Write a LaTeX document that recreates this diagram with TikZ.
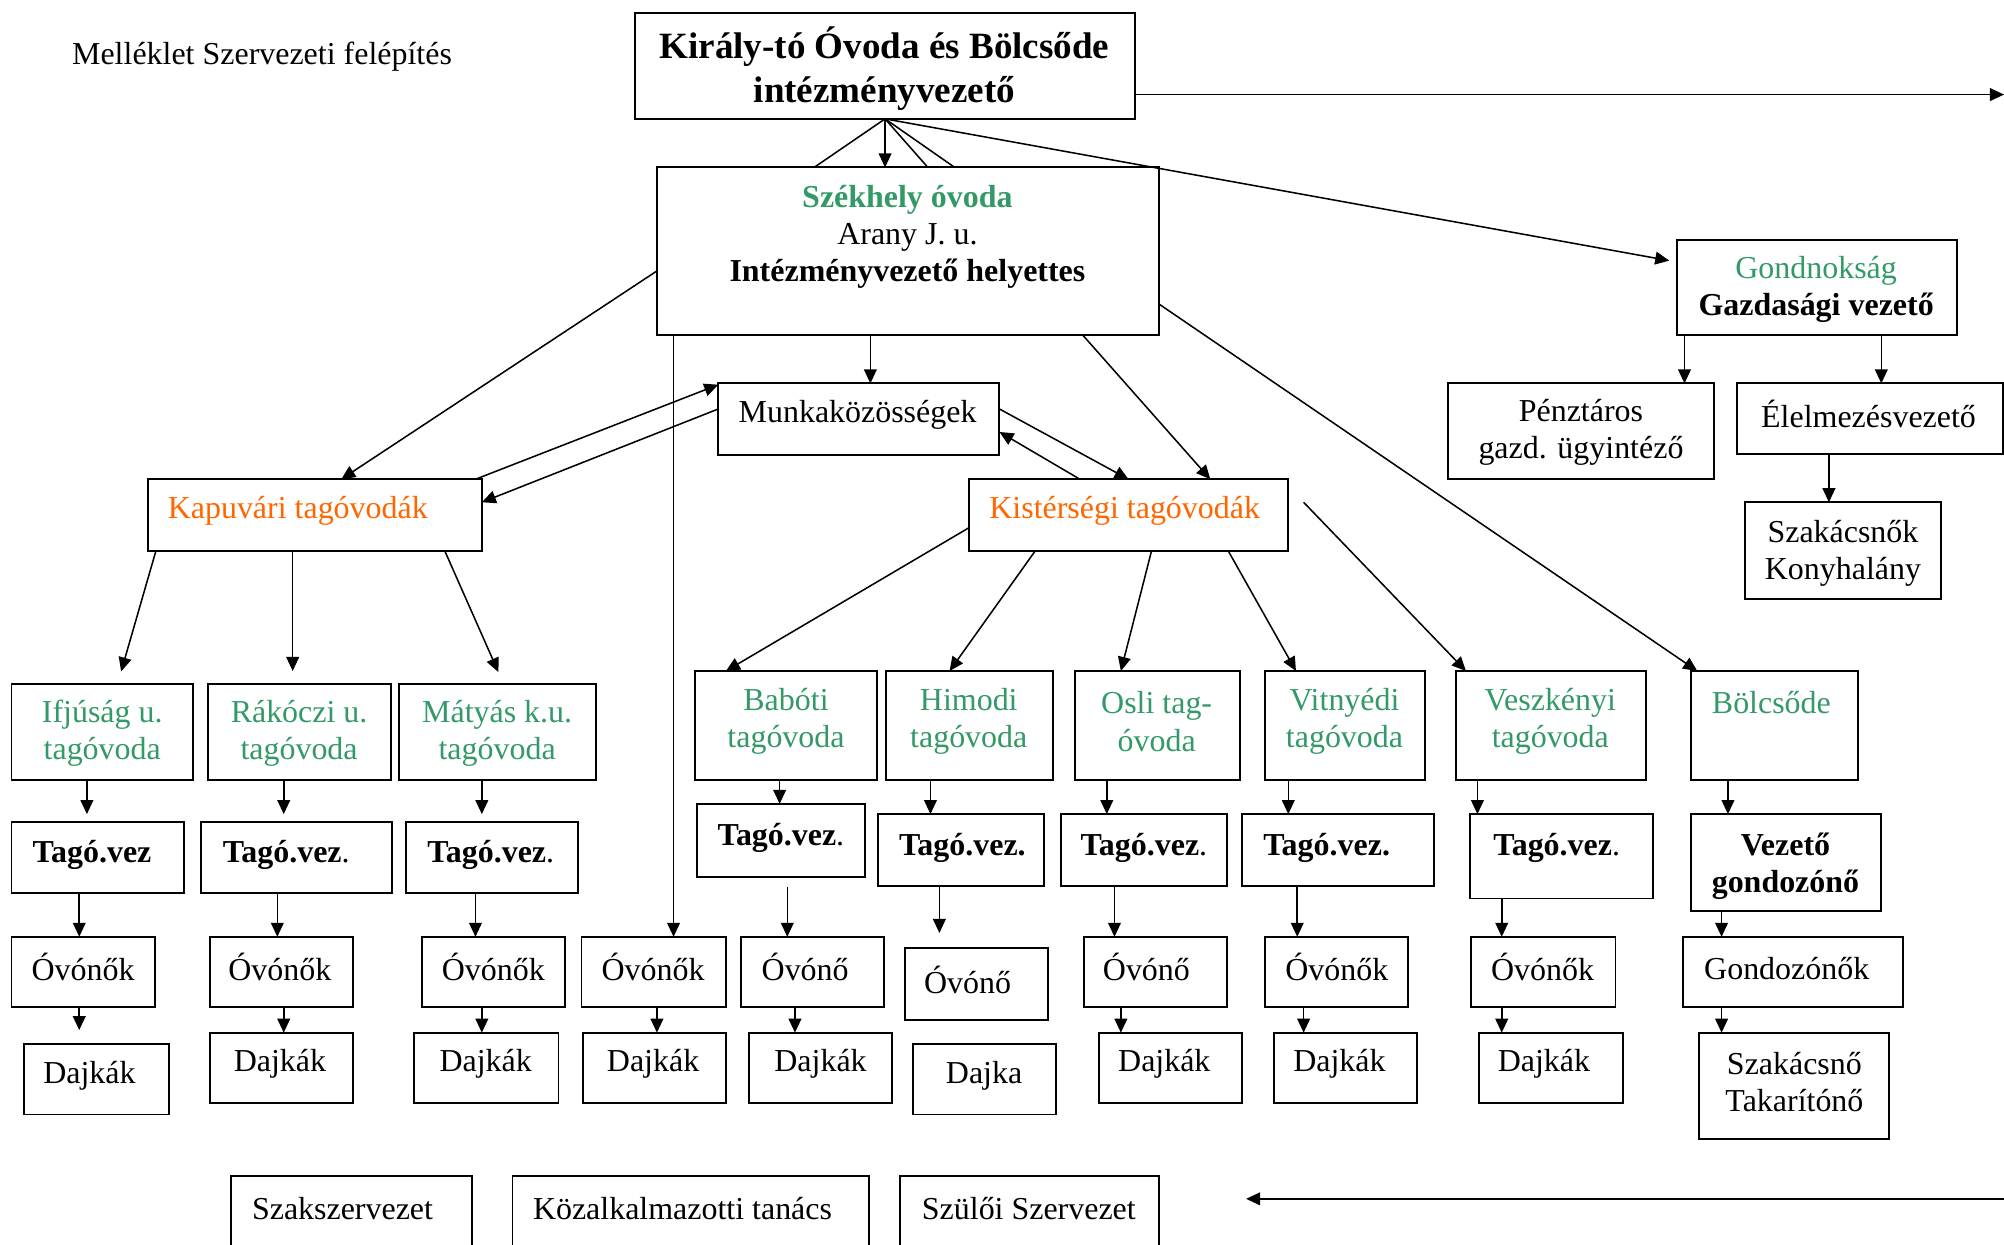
\documentclass[tikz,border=0pt]{standalone}
\usepackage{fontspec}
\setmainfont{Liberation Serif}
\usetikzlibrary{arrows.meta,fit}
\definecolor{grn}{HTML}{339966}
\definecolor{org}{HTML}{FF6600}
\newcommand\bx[8]{%
  \node[box, fit={(#2,#3) (#4,#5)}] (#1) {};
  \node[txt] (#1-t) at (#6,#7) {#8};%
}
\begin{document}
\begin{tikzpicture}[x=0.5pt,y=-0.5pt,
  box/.style={draw, line width=0.75pt, inner sep=0pt, outer sep=0pt, rectangle},
  txt/.style={inner sep=0pt, align=center, yshift=-0.8pt, font=\fontsize{12.5}{14.5}\selectfont},
  arr/.style={line width=0.6pt, -{Triangle[length=5.5pt,width=5pt]}},
  ln/.style={line width=0.6pt},
  g/.style={text=grn}, o/.style={text=org}]
\useasboundingbox (0,0) rectangle (1568,974);
\clip (0,0) rectangle (1568,974);

\node[txt] (mell) at (205,43) {Melléklet Szervezeti felépítés};

\bx{top}{497}{10}{888}{93}{692}{52}{\fontsize{14.5}{17}\selectfont\bfseries Király-tó Óvoda és Bölcsőde\\[2.5pt]\fontsize{14.5}{17}\selectfont\bfseries intézményvezető}
\bx{szek}{514}{131}{907}{262}{710}{184}{\textcolor{grn}{\bfseries Székhely óvoda}\\Arany J. u.\\\bfseries Intézményvezető helyettes}
\bx{gond}{1312}{188}{1531}{262}{1421}{225}{\textcolor{grn}{Gondnokság}\\\bfseries Gazdasági vezető}
\bx{penz}{1133}{300}{1341}{375}{1237}{337}{Pénztáros\\gazd. ügyintéző}
\bx{elel}{1359}{300}{1567}{355}{1462}{322}{Élelmezésvezető}
\bx{szak}{1365}{393}{1519}{469}{1442}{431}{Szakácsnők\\Konyhalány}
\bx{munka}{562}{300}{782}{356}{671}{323}{Munkaközösségek}
\bx{kap}{116}{375}{377}{431}{233}{398}{\textcolor{org}{Kapuvári tagóvodák}}
\bx{kis}{758}{375}{1008}{431}{880}{398}{\textcolor{org}{Kistérségi tagóvodák}}

% row 1
\bx{ifj}{9}{535}{151}{610}{80}{572}{\color{grn}Ifjúság u.\\\color{grn}tagóvoda}
\bx{rak}{163}{535}{306}{610}{234}{572}{\color{grn}Rákóczi u.\\\color{grn}tagóvoda}
\bx{mat}{312}{535}{466}{610}{389}{572}{\color{grn}Mátyás k.u.\\\color{grn}tagóvoda}
\bx{bab}{544}{525}{686}{610}{615}{563}{\color{grn}Babóti\\\color{grn}tagóvoda}
\bx{him}{693}{525}{824}{610}{758}{563}{\color{grn}Himodi\\\color{grn}tagóvoda}
\bx{osl}{841}{525}{970}{610}{905}{563}{\color{grn}Osli tag-\\\color{grn}óvoda}
\bx{vit}{990}{525}{1115}{610}{1052}{563}{\color{grn}Vitnyédi\\\color{grn}tagóvoda}
\bx{vesz}{1139}{525}{1288}{610}{1213}{563}{\color{grn}Veszkényi\\\color{grn}tagóvoda}
\bx{bol}{1323}{525}{1454}{610}{1386}{548}{\color{grn}Bölcsőde}

% row 2
\bx{tv1}{9}{643}{144}{699}{72}{667}{\textbf{Tagó.vez}}
\bx{tv2}{157}{643}{307}{699}{224}{667}{\textbf{Tagó.vez}.}
\bx{tv3}{318}{643}{452}{699}{384}{667}{\textbf{Tagó.vez}.}
\bx{tv4}{545}{629}{677}{686}{611}{654}{\textbf{Tagó.vez}.}
\bx{tv5}{687}{637}{817}{693}{753}{662}{\textbf{Tagó.vez.}}
\bx{tv6}{830}{637}{960}{693}{895}{662}{\textbf{Tagó.vez}.}
\bx{tv7}{972}{637}{1122}{693}{1038}{662}{\textbf{Tagó.vez.}}
\bx{tv8}{1150}{637}{1293}{703}{1218}{662}{\textbf{Tagó.vez}.}
\bx{vg}{1323}{637}{1472}{713}{1397}{676}{\bfseries Vezető\\\bfseries gondozónő}

% row 3
\bx{o1}{9}{733}{121}{788}{65}{755}{Óvónők}
\bx{o2}{164}{733}{276}{788}{219}{755}{Óvónők}
\bx{o3}{330}{733}{442}{788}{386}{755}{Óvónők}
\bx{o4}{455}{733}{568}{788}{511}{755}{Óvónők}
\bx{o5}{580}{733}{692}{788}{630}{755}{Óvónő}
\bx{o6}{708}{742}{820}{798}{757}{765}{Óvónő}
\bx{o7}{848}{733}{960}{788}{897}{755}{Óvónő}
\bx{o8}{990}{733}{1102}{788}{1046}{755}{Óvónők}
\bx{o9}{1151}{733}{1264}{788}{1207}{755}{Óvónők}
\bx{o10}{1317}{733}{1489}{788}{1398}{756}{Gondozónők}

% row 4
\bx{d1}{19}{817}{132}{872}{70}{840}{Dajkák}
\bx{d2}{164}{808}{276}{863}{219}{831}{Dajkák}
\bx{d3}{324}{808}{437}{863}{380}{831}{Dajkák}
\bx{d4}{456}{808}{568}{863}{511}{831}{Dajkák}
\bx{d5}{586}{808}{698}{863}{642}{831}{Dajkák}
\bx{d6}{714}{817}{826}{872}{770}{840}{Dajka}
\bx{d7}{860}{808}{972}{863}{911}{831}{Dajkák}
\bx{d8}{997}{808}{1109}{863}{1048}{831}{Dajkák}
\bx{d9}{1157}{808}{1270}{863}{1208}{831}{Dajkák}
\bx{d10}{1329}{808}{1478}{891}{1404}{845}{Szakácsnő\\Takarítónő}

% bottom
\bx{sz1}{181}{920}{369}{1000}{268}{944}{Szakszervezet}
\bx{sz2}{401}{920}{680}{1000}{534}{944}{Közalkalmazotti tanács}
\bx{sz3}{704}{920}{907}{1000}{805}{944}{Szülői Szervezet}
\coordinate (botR) at (1568,938);
\coordinate (botL) at (975,938);
\draw[arr] (botR) -- (botL);

% top connectors
\coordinate (topR) at (1568,74);
\draw[arr] (top.east |- 0,74) -- (topR);
\draw[ln] (top.south) -- (637,0 |- szek.north);
\draw[arr] (top.south) -- (top.south |- szek.north);
\draw[ln] (top.south) -- (726,0 |- szek.north);
\draw[ln] (top.south) -- (747,0 |- szek.north);
\draw[arr, shorten >=3pt] (top.south) -- (gond.west |- 0,205);

% gondnokság
\draw[arr] (1318,0 |- gond.south) -- (1318,0 |- penz.north);
\draw[arr] (1472,0 |- gond.south) -- (1472,0 |- elel.north);
\draw[arr] (1431,0 |- elel.south) -- (1431,0 |- szak.north);

% székhely
\draw[arr] (szek.west |- 0,212) -- (267,0 |- kap.north);
\draw[arr] (527,0 |- szek.south) -- (527,0 |- o4.north);
\draw[arr] (681,0 |- szek.south) -- (681,0 |- munka.north);
\draw[arr] (847,0 |- szek.south) -- (947,0 |- kis.north);
\draw[arr] (szek.east |- 0,238) -- (1328,0 |- bol.north);

% munkaközösségek
\draw[arr] (372,0 |- kap.north) -- (munka.west |- 0,301);
\draw[arr] (munka.west |- 0,320) -- (kap.east |- 0,393);
\draw[arr] (munka.east |- 0,320) -- (883,0 |- kis.north);
\draw[arr] (845,0 |- kis.north) -- (munka.east |- 0,338);

% kapuvári children
\draw[arr, shorten >=5pt] (122,0 |- kap.south) -- (92,0 |- ifj.north);
\draw[arr, shorten >=5pt] (229,0 |- kap.south) -- (229,0 |- rak.north);
\draw[arr, shorten >=5pt] (348,0 |- kap.south) -- (394,0 |- mat.north);

% kistérségi children
\draw[arr] (kis.west |- 0,413) -- (568,0 |- bab.north);
\draw[arr] (810,0 |- kis.south) -- (743,0 |- him.north);
\draw[arr] (901,0 |- kis.south) -- (877,0 |- osl.north);
\draw[arr] (961,0 |- kis.south) -- (1014,0 |- vit.north);
\draw[arr] ([shift={(12,-10)}]kis.east) -- (1147,0 |- vesz.north);

% row1 -> row2
\draw[arr, shorten >=3pt] (68,0 |- ifj.south) -- (68,0 |- tv1.north);
\draw[arr, shorten >=3pt] (222,0 |- rak.south) -- (222,0 |- tv2.north);
\draw[arr, shorten >=3pt] (377,0 |- mat.south) -- (377,0 |- tv3.north);
\draw[arr] (610,0 |- bab.south) -- (610,0 |- tv4.north);
\draw[arr] (728,0 |- him.south) -- (728,0 |- tv5.north);
\draw[arr] (866,0 |- osl.south) -- (866,0 |- tv6.north);
\draw[arr] (1008,0 |- vit.south) -- (1008,0 |- tv7.north);
\draw[arr] (1156,0 |- vesz.south) -- (1156,0 |- tv8.north);
\draw[arr] (1352,0 |- bol.south) -- (1352,0 |- vg.north);

% row2 -> row3
\draw[arr] (62,0 |- tv1.south) -- (62,0 |- o1.north);
\draw[arr] (217,0 |- tv2.south) -- (217,0 |- o2.north);
\draw[arr] (372,0 |- tv3.south) -- (372,0 |- o3.north);
\draw[arr, shorten <=4pt] (616,0 |- tv4.south) -- (616,0 |- o5.north);
\draw[arr, shorten >=6pt] (735,0 |- tv5.south) -- (735,0 |- o6.north);
\draw[arr] (872,0 |- tv6.south) -- (872,0 |- o7.north);
\draw[arr] (1015,0 |- tv7.south) -- (1015,0 |- o8.north);
\draw[arr] (1175,0 |- tv8.south) -- (1175,0 |- o9.north);
\draw[arr] (1347,0 |- vg.south) -- (1347,0 |- o10.north);

% row3 -> row4
\draw[arr, shorten >=5.5pt] (62,0 |- o1.south) -- (62,0 |- d1.north);
\draw[arr] (222,0 |- o2.south) -- (222,0 |- d2.north);
\draw[arr] (377,0 |- o3.south) -- (377,0 |- d3.north);
\draw[arr] (514,0 |- o4.south) -- (514,0 |- d4.north);
\draw[arr] (622,0 |- o5.south) -- (622,0 |- d5.north);
\draw[arr] (877,0 |- o7.south) -- (877,0 |- d7.north);
\draw[arr] (1020,0 |- o8.south) -- (1020,0 |- d8.north);
\draw[arr] (1175,0 |- o9.south) -- (1175,0 |- d9.north);
\draw[arr] (1347,0 |- o10.south) -- (1347,0 |- d10.north);
\end{tikzpicture}
\end{document}
